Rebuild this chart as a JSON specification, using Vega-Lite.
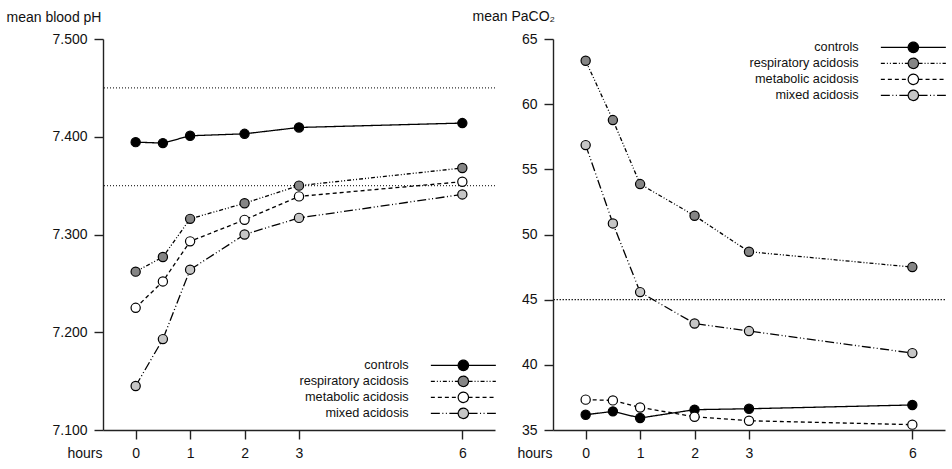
{
  "$schema": "https://vega.github.io/schema/vega-lite/v6.json",
  "padding": {"left": 6, "top": 9, "right": 5, "bottom": 5},
  "background": "white",
  "config": {
    "view": {"stroke": null},
    "font": "Liberation Sans",
    "axis": {"grid": false, "domainColor": "#222", "domainWidth": 1.4, "tickColor": "#222", "tickWidth": 1.4, "tickSize": 9, "labelFontSize": 14, "labelColor": "#111", "labelPadding": 7, "titleFontSize": 14, "titleColor": "#111", "titleFontWeight": "normal", "labelFont": "Liberation Sans", "titleFont": "Liberation Sans"},
    "legend": {"labelFont": "Liberation Sans", "labelFontSize": 12.7, "labelColor": "#111"}
  },
  "datasets": {
    "ph": [
      {"group": "controls", "hours": 0, "value": 7.3945},
      {"group": "controls", "hours": 0.5, "value": 7.3935},
      {"group": "controls", "hours": 1, "value": 7.401},
      {"group": "controls", "hours": 2, "value": 7.403},
      {"group": "controls", "hours": 3, "value": 7.4095},
      {"group": "controls", "hours": 6, "value": 7.414},
      {"group": "respiratory acidosis", "hours": 0, "value": 7.262},
      {"group": "respiratory acidosis", "hours": 0.5, "value": 7.277},
      {"group": "respiratory acidosis", "hours": 1, "value": 7.316},
      {"group": "respiratory acidosis", "hours": 2, "value": 7.332},
      {"group": "respiratory acidosis", "hours": 3, "value": 7.350},
      {"group": "respiratory acidosis", "hours": 6, "value": 7.368},
      {"group": "metabolic acidosis", "hours": 0, "value": 7.225},
      {"group": "metabolic acidosis", "hours": 0.5, "value": 7.252},
      {"group": "metabolic acidosis", "hours": 1, "value": 7.293},
      {"group": "metabolic acidosis", "hours": 2, "value": 7.315},
      {"group": "metabolic acidosis", "hours": 3, "value": 7.339},
      {"group": "metabolic acidosis", "hours": 6, "value": 7.354},
      {"group": "mixed acidosis", "hours": 0, "value": 7.145},
      {"group": "mixed acidosis", "hours": 0.5, "value": 7.193},
      {"group": "mixed acidosis", "hours": 1, "value": 7.264},
      {"group": "mixed acidosis", "hours": 2, "value": 7.300},
      {"group": "mixed acidosis", "hours": 3, "value": 7.317},
      {"group": "mixed acidosis", "hours": 6, "value": 7.341}
    ],
    "paco2": [
      {"group": "controls", "hours": 0, "value": 36.17},
      {"group": "controls", "hours": 0.5, "value": 36.43},
      {"group": "controls", "hours": 1, "value": 35.92},
      {"group": "controls", "hours": 2, "value": 36.56},
      {"group": "controls", "hours": 3, "value": 36.63},
      {"group": "controls", "hours": 6, "value": 36.92},
      {"group": "respiratory acidosis", "hours": 0, "value": 63.33},
      {"group": "respiratory acidosis", "hours": 0.5, "value": 58.78},
      {"group": "respiratory acidosis", "hours": 1, "value": 53.87},
      {"group": "respiratory acidosis", "hours": 2, "value": 51.44},
      {"group": "respiratory acidosis", "hours": 3, "value": 48.68},
      {"group": "respiratory acidosis", "hours": 6, "value": 47.5},
      {"group": "metabolic acidosis", "hours": 0, "value": 37.33},
      {"group": "metabolic acidosis", "hours": 0.5, "value": 37.27},
      {"group": "metabolic acidosis", "hours": 1, "value": 36.73},
      {"group": "metabolic acidosis", "hours": 2, "value": 36.02},
      {"group": "metabolic acidosis", "hours": 3, "value": 35.71},
      {"group": "metabolic acidosis", "hours": 6, "value": 35.41},
      {"group": "mixed acidosis", "hours": 0, "value": 56.86},
      {"group": "mixed acidosis", "hours": 0.5, "value": 50.85},
      {"group": "mixed acidosis", "hours": 1, "value": 45.58},
      {"group": "mixed acidosis", "hours": 2, "value": 43.17},
      {"group": "mixed acidosis", "hours": 3, "value": 42.59},
      {"group": "mixed acidosis", "hours": 6, "value": 40.9}
    ]
  },
  "spacing": 58,
  "bounds": "flush",
  "resolve": {"scale": {"fill": "independent", "strokeDash": "independent"}},
  "hconcat": [
    {
      "width": 392,
      "height": 391,
      "layer": [
        {
          "data": {"values": [{"value": 7.45}, {"value": 7.35}]},
          "mark": {"type": "rule", "strokeDash": [1, 2], "color": "#333", "strokeWidth": 1.2},
          "encoding": {"y": {"field": "value", "type": "quantitative"}}
        },
        {
          "data": {"name": "ph"},
          "mark": {"type": "line", "color": "black", "strokeWidth": 1.3},
          "encoding": {
            "x": {"field": "hours", "type": "quantitative", "scale": {"domain": [-0.6, 6.6], "nice": false, "zero": false},
              "axis": {"values": [0, 1, 2, 3, 6], "format": "d", "title": "hours", "titleX": -1, "titleY": 16, "titleAlign": "right", "titleBaseline": "top"}},
            "y": {"field": "value", "type": "quantitative", "scale": {"domain": [7.1, 7.5], "nice": false, "zero": false},
              "axis": {"values": [7.1, 7.2, 7.3, 7.4, 7.5], "format": ".3f", "title": "mean blood pH", "titleAngle": 0, "titleX": -97, "titleY": -18, "titleAlign": "left", "titleBaseline": "alphabetic"}},
            "strokeDash": {"field": "group", "type": "nominal",
              "scale": {"domain": ["controls", "respiratory acidosis", "metabolic acidosis", "mixed acidosis"], "range": [[1, 0], [4, 2, 1, 2, 1, 2], [4, 3], [9, 2.5, 1, 2.5, 1, 2.5]]},
              "legend": {"orient": "none", "legendX": 327, "legendY": 320, "title": null, "symbolType": "M-32.5,0H-5.2M5.2,0H32.5M5.2,0A5.2,5.2 0 1,1 -5.2,0A5.2,5.2 0 1,1 5.2,0ZM5.2,0A5.2,5.2 0 0,1 4.503,2.6M4.503,2.6A5.2,5.2 0 0,1 2.6,4.503M2.6,4.503A5.2,5.2 0 0,1 0,5.2M0,5.2A5.2,5.2 0 0,1 -2.6,4.503M-2.6,4.503A5.2,5.2 0 0,1 -4.503,2.6M-4.503,2.6A5.2,5.2 0 0,1 -5.2,0M-5.2,0A5.2,5.2 0 0,1 -4.503,-2.6M-4.503,-2.6A5.2,5.2 0 0,1 -2.6,-4.503M-2.6,-4.503A5.2,5.2 0 0,1 0,-5.2M0,-5.2A5.2,5.2 0 0,1 2.6,-4.503M2.6,-4.503A5.2,5.2 0 0,1 4.503,-2.6M4.503,-2.6A5.2,5.2 0 0,1 5.2,0", "symbolSize": 4, "symbolStrokeColor": "black", "symbolStrokeWidth": 1.2, "symbolOpacity": 1, "symbolOffset": 27, "labelAlign": "right", "labelOffset": -61, "rowPadding": 0, "padding": 0}}
          }
        },
        {
          "data": {"name": "ph"},
          "mark": {"type": "point", "filled": true, "size": 85, "stroke": "black", "strokeWidth": 1.2, "opacity": 1},
          "encoding": {
            "x": {"field": "hours", "type": "quantitative"},
            "y": {"field": "value", "type": "quantitative"},
            "fill": {"field": "group", "type": "nominal",
              "scale": {"domain": ["controls", "respiratory acidosis", "metabolic acidosis", "mixed acidosis"], "range": ["black", "#858585", "white", "#c6c6c6"]},
              "legend": {"orient": "none", "legendX": 327, "legendY": 320, "title": null, "symbolType": "M-32.5,0H-5.2M5.2,0H32.5M5.2,0A5.2,5.2 0 1,1 -5.2,0A5.2,5.2 0 1,1 5.2,0ZM5.2,0A5.2,5.2 0 0,1 4.503,2.6M4.503,2.6A5.2,5.2 0 0,1 2.6,4.503M2.6,4.503A5.2,5.2 0 0,1 0,5.2M0,5.2A5.2,5.2 0 0,1 -2.6,4.503M-2.6,4.503A5.2,5.2 0 0,1 -4.503,2.6M-4.503,2.6A5.2,5.2 0 0,1 -5.2,0M-5.2,0A5.2,5.2 0 0,1 -4.503,-2.6M-4.503,-2.6A5.2,5.2 0 0,1 -2.6,-4.503M-2.6,-4.503A5.2,5.2 0 0,1 0,-5.2M0,-5.2A5.2,5.2 0 0,1 2.6,-4.503M2.6,-4.503A5.2,5.2 0 0,1 4.503,-2.6M4.503,-2.6A5.2,5.2 0 0,1 5.2,0", "symbolSize": 4, "symbolStrokeColor": "black", "symbolStrokeWidth": 1.2, "symbolOpacity": 1, "symbolOffset": 27, "labelAlign": "right", "labelOffset": -61, "rowPadding": 0, "padding": 0}}
          }
        }
      ]
    },
    {
      "width": 392,
      "height": 391,
      "layer": [
        {
          "data": {"values": [{"value": 45}]},
          "mark": {"type": "rule", "strokeDash": [1.5, 1.5], "color": "#222", "strokeWidth": 1.3},
          "encoding": {"y": {"field": "value", "type": "quantitative"}}
        },
        {
          "data": {"name": "paco2"},
          "mark": {"type": "line", "color": "black", "strokeWidth": 1.3},
          "encoding": {
            "x": {"field": "hours", "type": "quantitative", "scale": {"domain": [-0.6, 6.6], "nice": false, "zero": false},
              "axis": {"values": [0, 1, 2, 3, 6], "format": "d", "title": "hours", "titleX": -1, "titleY": 16, "titleAlign": "right", "titleBaseline": "top"}},
            "y": {"field": "value", "type": "quantitative", "scale": {"domain": [35, 65], "nice": false, "zero": false},
              "axis": {"values": [35, 40, 45, 50, 55, 60, 65], "format": "d", "title": "mean PaCO₂", "titleAngle": 0, "titleX": -81, "titleY": -19, "titleAlign": "left", "titleBaseline": "alphabetic"}},
            "strokeDash": {"field": "group", "type": "nominal",
              "scale": {"domain": ["controls", "respiratory acidosis", "metabolic acidosis", "mixed acidosis"], "range": [[1, 0], [4, 2, 1, 2, 1, 2], [4, 3], [9, 2.5, 1, 2.5, 1, 2.5]]},
              "legend": {"orient": "none", "legendX": 327, "legendY": 2, "title": null, "symbolType": "M-32.5,0H-5.2M5.2,0H32.5M5.2,0A5.2,5.2 0 1,1 -5.2,0A5.2,5.2 0 1,1 5.2,0ZM5.2,0A5.2,5.2 0 0,1 4.503,2.6M4.503,2.6A5.2,5.2 0 0,1 2.6,4.503M2.6,4.503A5.2,5.2 0 0,1 0,5.2M0,5.2A5.2,5.2 0 0,1 -2.6,4.503M-2.6,4.503A5.2,5.2 0 0,1 -4.503,2.6M-4.503,2.6A5.2,5.2 0 0,1 -5.2,0M-5.2,0A5.2,5.2 0 0,1 -4.503,-2.6M-4.503,-2.6A5.2,5.2 0 0,1 -2.6,-4.503M-2.6,-4.503A5.2,5.2 0 0,1 0,-5.2M0,-5.2A5.2,5.2 0 0,1 2.6,-4.503M2.6,-4.503A5.2,5.2 0 0,1 4.503,-2.6M4.503,-2.6A5.2,5.2 0 0,1 5.2,0", "symbolSize": 4, "symbolStrokeColor": "black", "symbolStrokeWidth": 1.2, "symbolOpacity": 1, "symbolOffset": 27, "labelAlign": "right", "labelOffset": -61, "rowPadding": 0, "padding": 0}}
          }
        },
        {
          "data": {"name": "paco2"},
          "mark": {"type": "point", "filled": true, "size": 85, "stroke": "black", "strokeWidth": 1.2, "opacity": 1},
          "encoding": {
            "x": {"field": "hours", "type": "quantitative"},
            "y": {"field": "value", "type": "quantitative"},
            "fill": {"field": "group", "type": "nominal",
              "scale": {"domain": ["controls", "respiratory acidosis", "metabolic acidosis", "mixed acidosis"], "range": ["black", "#858585", "white", "#c6c6c6"]},
              "legend": {"orient": "none", "legendX": 327, "legendY": 2, "title": null, "symbolType": "M-32.5,0H-5.2M5.2,0H32.5M5.2,0A5.2,5.2 0 1,1 -5.2,0A5.2,5.2 0 1,1 5.2,0ZM5.2,0A5.2,5.2 0 0,1 4.503,2.6M4.503,2.6A5.2,5.2 0 0,1 2.6,4.503M2.6,4.503A5.2,5.2 0 0,1 0,5.2M0,5.2A5.2,5.2 0 0,1 -2.6,4.503M-2.6,4.503A5.2,5.2 0 0,1 -4.503,2.6M-4.503,2.6A5.2,5.2 0 0,1 -5.2,0M-5.2,0A5.2,5.2 0 0,1 -4.503,-2.6M-4.503,-2.6A5.2,5.2 0 0,1 -2.6,-4.503M-2.6,-4.503A5.2,5.2 0 0,1 0,-5.2M0,-5.2A5.2,5.2 0 0,1 2.6,-4.503M2.6,-4.503A5.2,5.2 0 0,1 4.503,-2.6M4.503,-2.6A5.2,5.2 0 0,1 5.2,0", "symbolSize": 4, "symbolStrokeColor": "black", "symbolStrokeWidth": 1.2, "symbolOpacity": 1, "symbolOffset": 27, "labelAlign": "right", "labelOffset": -61, "rowPadding": 0, "padding": 0}}
          }
        }
      ]
    }
  ]
}
